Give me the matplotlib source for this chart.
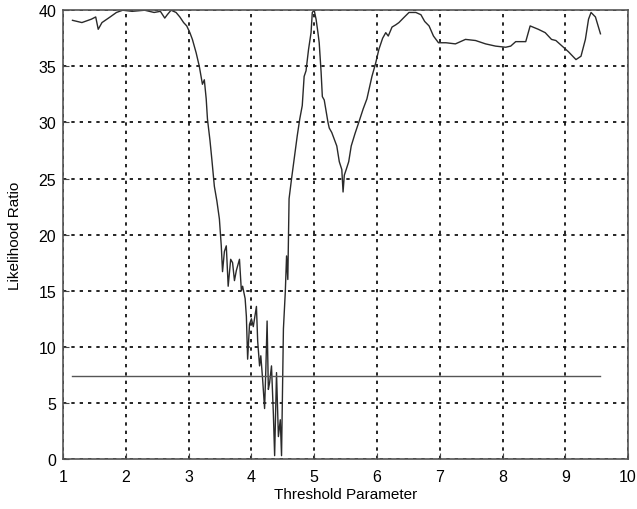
import matplotlib
matplotlib.use("Agg")
import matplotlib.pyplot as plt

# curve
thresh = [1.15, 1.3, 1.45, 1.52, 1.56, 1.62, 1.75, 1.85, 1.95, 2.1, 2.3, 2.45, 2.55, 2.62, 2.66, 2.72,
          2.8, 2.86, 2.92, 2.97, 3.02, 3.06, 3.12, 3.17, 3.22, 3.25, 3.28, 3.3, 3.34, 3.37, 3.41,
          3.45, 3.49, 3.52, 3.54, 3.57, 3.6, 3.63, 3.67, 3.7, 3.73, 3.76, 3.81, 3.84, 3.86, 3.9,
          3.92, 3.94, 3.97, 4.0, 4.03, 4.08, 4.1, 4.13, 4.15, 4.18, 4.21, 4.23, 4.25, 4.27, 4.29,
          4.32, 4.35, 4.37, 4.4, 4.43, 4.46, 4.48, 4.49, 4.51, 4.54, 4.56, 4.58, 4.6, 4.64, 4.68,
          4.73, 4.77, 4.81, 4.84, 4.87, 4.91, 4.95, 4.97, 5.0, 5.03, 5.06, 5.08, 5.11, 5.13, 5.16,
          5.19, 5.22, 5.24, 5.28, 5.32, 5.36, 5.4, 5.44, 5.46, 5.48, 5.51, 5.55, 5.59, 5.65, 5.71,
          5.78, 5.84, 5.92, 5.98, 6.03, 6.09, 6.14, 6.18, 6.24, 6.3, 6.35, 6.42, 6.51, 6.62, 6.7,
          6.76, 6.83, 6.9, 6.98, 7.1, 7.25, 7.33, 7.41, 7.57, 7.73, 7.89, 8.05, 8.13, 8.21, 8.37,
          8.44, 8.57, 8.68, 8.78, 8.85, 8.89, 8.95, 9.05, 9.17, 9.25, 9.32, 9.37, 9.41, 9.48, 9.56]
ratio = [39.1, 38.9, 39.2, 39.4, 38.3, 38.9, 39.4, 39.8, 40.0, 39.9, 40.0, 39.8, 39.9, 39.3, 39.6, 40.0,
         39.8, 39.4, 38.9, 38.6, 38.0, 37.4, 36.2, 35.0, 33.4, 33.8, 32.1, 30.3, 28.4, 26.7, 24.3,
         23.0, 21.4, 19.0, 16.7, 18.5, 19.0, 15.4, 17.8, 17.5, 15.9, 16.8, 17.8, 15.0, 15.4, 14.3,
         12.7, 8.9, 12.0, 12.5, 11.8, 13.6, 10.5, 8.3, 9.2, 7.0, 4.5, 8.0, 12.3, 6.2, 6.8, 8.3,
         4.0, 0.3, 7.7, 2.0, 3.5, 0.3, 4.2, 11.6, 14.9, 18.1, 16.0, 23.2, 25.0, 26.7, 28.8, 30.3,
         31.5, 34.1, 34.6, 36.5, 38.0, 39.8, 40.0, 39.2, 38.0, 37.1, 34.5, 32.3, 32.0, 31.0,
         30.0, 29.5, 29.1, 28.5, 27.9, 26.5, 25.8, 23.8, 25.3, 25.8, 26.5, 27.9, 29.0, 30.0,
         31.2, 32.1, 34.1, 35.3, 36.5, 37.5, 38.0, 37.7, 38.5, 38.7, 38.9, 39.3, 39.8, 39.8, 39.6,
         39.0, 38.6, 37.7, 37.1, 37.1, 37.0, 37.2, 37.4, 37.3, 37.0, 36.8, 36.7, 36.8, 37.2, 37.2,
         38.6, 38.3, 38.0, 37.4, 37.3, 37.1, 36.8, 36.3, 35.6, 35.9, 37.4, 39.2, 39.8, 39.4, 37.9]

level = 7.4
level_x = [1.15, 9.55]

xticks = [1, 2, 3, 4, 5, 6, 7, 8, 9, 10]
yticks = [0, 5, 10, 15, 20, 25, 30, 35, 40]

plt.rcParams['font.family'] = ['Liberation Sans', 'DejaVu Sans']

fig = plt.figure(figsize=(6.37, 5.1), dpi=100)
ax = fig.add_axes([0.099, 0.098, 0.887, 0.88])

ax.plot(thresh, ratio, color='#2a2a2a', linewidth=1.0)
ax.plot(level_x, [level, level], color='#555555', linewidth=1.0)

ax.set_xlim(1, 10)
ax.set_ylim(0, 40)
ax.set_xticks(xticks)
ax.set_yticks(yticks)
ax.grid(True, color='black', linestyle=(0, (2, 3)), linewidth=1.2)
ax.tick_params(direction='in', labelsize=11.5, length=4, color='#444444')
ax.tick_params(axis='x', pad=7)
ax.tick_params(axis='y', pad=5)
for s in ax.spines.values():
    s.set_color('#555555')
    s.set_linewidth(1.2)

ax.set_xlabel('Threshold Parameter', fontsize=11, labelpad=2)
ax.set_ylabel('Likelihood Ratio', fontsize=11, labelpad=12)

fig.savefig('out.png', dpi=100)
